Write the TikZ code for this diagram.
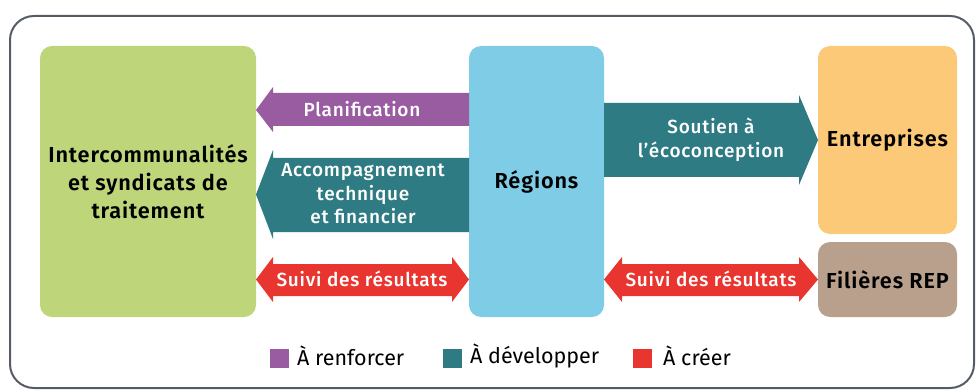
\documentclass[tikz,border=0pt]{standalone}
\usepackage{fontspec}
\setmainfont{Fira Sans}[BoldFont={Fira Sans SemiBold}]
\newfontfamily\labfont{Fira Sans Medium}[LetterSpace=4]
\newfontfamily\ttlfont{Fira Sans SemiBold}[LetterSpace=4]
\definecolor{framec}{HTML}{565C66}
\definecolor{greenc}{HTML}{BED57A}
\definecolor{bluec}{HTML}{7FCCE6}
\definecolor{orangec}{HTML}{FBC977}
\definecolor{brownc}{HTML}{B8A08D}
\definecolor{purplec}{HTML}{9A5CA1}
\definecolor{tealc}{HTML}{2F7B83}
\definecolor{redc}{HTML}{E8352F}
\begin{document}
\begin{tikzpicture}[x=1pt,y=-1pt,
  box/.style={rounded corners=12pt, inner sep=0pt, align=center, text=black,
    font=\ttlfont\fontsize{21.7}{28}\selectfont},
  lab/.style={text=white, align=center, inner sep=0pt,
    font=\labfont\fontsize{19}{23.5}\selectfont},
  leg/.style={anchor=west, inner sep=0pt, font=\fontsize{21.5}{24}\selectfont},
  sq/.style={minimum size=19pt, inner sep=0pt}]
\useasboundingbox (0,0) rectangle (976,390);
\draw[framec, line width=2pt, rounded corners=24pt] (10,16) rectangle (974,388);
% boxes
\node[box, fill=greenc, minimum width=216pt, minimum height=271pt] (inter) at (148,181.5)
  {Intercommunalités\\et syndicats de\\traitement};
\node[box, fill=bluec, minimum width=135pt, minimum height=271pt] (reg) at (536.5,181.5) {Régions};
\node[box, fill=orangec, minimum width=139pt, minimum height=188pt] (ent) at (887.5,140) {Entreprises};
\node[box, fill=brownc, minimum width=139pt, minimum height=75pt] (rep) at (887.5,279.5) {Filières REP};
% arrows
\fill[purplec] (469,93) -- (273,93) -- (273,87) -- (256,110) -- (273,132) -- (273,126) -- (469,126) -- cycle;
\fill[tealc] (469,158) -- (273,158) -- (273,150) -- (256,194.5) -- (273,239) -- (273,232) -- (469,232) -- cycle;
\fill[redc] (256,279.5) -- (273,257) -- (273,264) -- (452,264) -- (452,257) -- (469,279.5)
  -- (452,302) -- (452,296) -- (273,296) -- (273,302) -- cycle;
\fill[redc] (604,279.5) -- (622,257) -- (622,264) -- (799,264) -- (799,257) -- (818,279.5)
  -- (799,302) -- (799,296) -- (622,296) -- (622,302) -- cycle;
\fill[tealc] (604,103) -- (799,103) -- (799,95) -- (818,140) -- (799,185) -- (799,177) -- (604,177) -- cycle;
% labels
\node[lab] (lplan) at (362,109) {Planification};
\node[lab] (lacc) at (363,194) {Accompagnement\\technique\\et financier};
\node[lab] (lsuivi1) at (362,279) {Suivi des résultats};
\node[lab] (lsuivi2) at (711,279) {Suivi des résultats};
\node[lab] (lsout) at (711,140) {Soutien à\\l’écoconception};
% legend
\node[sq, fill=purplec] (sq1) at (279.5,358.5) {};
\node[leg] (t1) at (297,356) {À renforcer};
\node[sq, fill=tealc] (sq2) at (452.5,358.5) {};
\node[leg] (t2) at (470,356) {À développer};
\node[sq, fill=redc] (sq3) at (642.5,358.5) {};
\node[leg] (t3) at (663,356) {À créer};
\end{tikzpicture}
\end{document}
